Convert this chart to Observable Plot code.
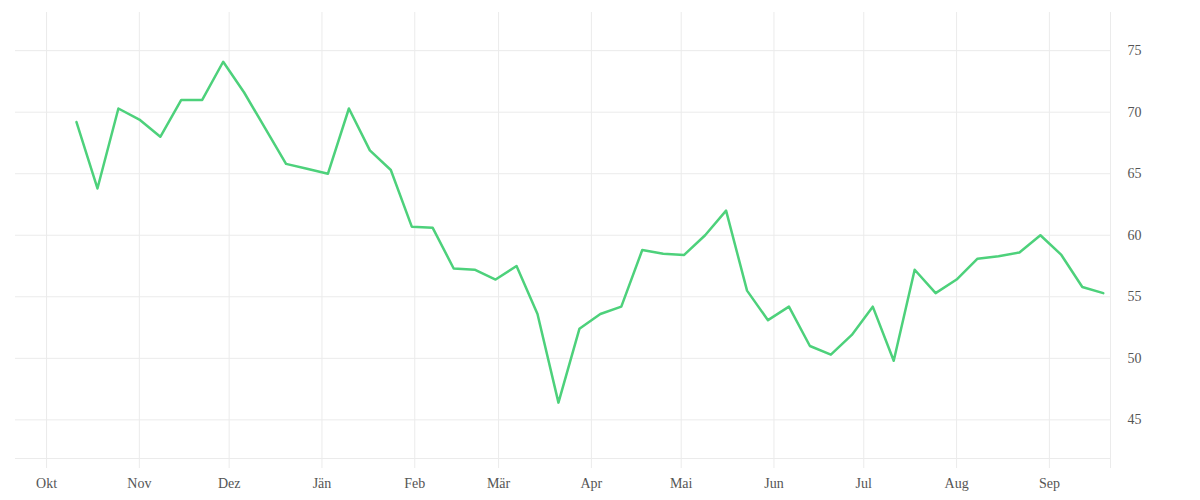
<!DOCTYPE html>
<html>
<head>
<meta charset="utf-8">
<script src="https://cdn.jsdelivr.net/npm/d3@7"></script>
<script src="https://cdn.jsdelivr.net/npm/@observablehq/plot@0.6"></script>
<style>
  html, body { margin: 0; padding: 0; background: #fff; }
</style>
</head>
<body>
<div id="chart"></div>
<script>
const dates = [
  "2022-10-11","2022-10-18","2022-10-25",
  "2022-11-01","2022-11-08","2022-11-15","2022-11-22","2022-11-29",
  "2022-12-06","2022-12-13","2022-12-20","2022-12-27",
  "2023-01-03","2023-01-10","2023-01-17","2023-01-24","2023-01-31",
  "2023-02-07","2023-02-14","2023-02-21","2023-02-28",
  "2023-03-07","2023-03-14","2023-03-21","2023-03-28",
  "2023-04-04","2023-04-11","2023-04-18","2023-04-25",
  "2023-05-02","2023-05-09","2023-05-16","2023-05-23","2023-05-30",
  "2023-06-06","2023-06-13","2023-06-20","2023-06-27",
  "2023-07-04","2023-07-11","2023-07-18","2023-07-25",
  "2023-08-01","2023-08-08","2023-08-15","2023-08-22","2023-08-29",
  "2023-09-05","2023-09-12","2023-09-19"
];
const values = [
  69.2, 63.8, 70.3,
  69.4, 68.0, 71.0, 71.0, 74.1,
  71.6, 68.7, 65.8, 65.4,
  65.0, 70.3, 66.9, 65.3, 60.7,
  60.6, 57.3, 57.2, 56.4,
  57.5, 53.6, 46.4, 52.4,
  53.6, 54.2, 58.8, 58.5,
  58.4, 60.0, 62.0, 55.5, 53.1,
  54.2, 51.0, 50.3, 51.9,
  54.2, 49.8, 57.2, 55.3,
  56.4, 58.1, 58.3, 58.6, 60.0,
  58.4, 55.8, 55.3
];
const monthTicks = [
  "2022-10-01","2022-11-01","2022-12-01","2023-01-01","2023-02-01","2023-03-01",
  "2023-04-01","2023-05-01","2023-06-01","2023-07-01","2023-08-01","2023-09-01"
];
const monthNames = ["Jän","Feb","Mär","Apr","Mai","Jun","Jul","Aug","Sep","Okt","Nov","Dez"];
const yTicks = [45, 50, 55, 60, 65, 70, 75];
const xDomain = ["2022-09-20T15:00:00Z", "2023-09-21T10:00:00Z"];
const yDomain = [41.86, 78.1];

const data = dates.map((d, i) => ({date: new Date(d + "T00:00:00Z"), value: values[i]}));
const monthDates = monthTicks.map(d => new Date(d + "T00:00:00Z"));
const xDom = xDomain.map(d => new Date(d));
const gridTicks = [...monthDates, xDom[1]];

const gridColor = "#ebebeb";
const textColor = "#555";

const chart = Plot.plot({
  width: 1200,
  height: 500,
  marginLeft: 15,
  marginRight: 90,
  marginTop: 12,
  marginBottom: 42,
  style: {fontFamily: "'Liberation Serif', serif", fontSize: "14px", background: "#fff"},
  x: {type: "utc", domain: xDom, label: null},
  y: {domain: yDomain, label: null},
  marks: [
    Plot.gridY(yTicks, {stroke: gridColor, strokeOpacity: 1}),
    Plot.gridX(gridTicks, {stroke: gridColor, strokeOpacity: 1}),
    Plot.ruleY([yDomain[0]], {stroke: gridColor}),
    Plot.axisX(gridTicks, {tickSize: 10, stroke: gridColor, strokeOpacity: 1, tickFormat: () => "", label: null}),
    Plot.axisX(monthDates, {tickSize: 0, tickPadding: 20, fill: textColor, label: null, tickFormat: d => monthNames[d.getUTCMonth()]}),
    Plot.axisY(yTicks, {anchor: "right", tickSize: 0, tickPadding: 17, fill: textColor, label: null}),
    Plot.line(data, {x: "date", y: "value", stroke: "#4dd17b", strokeWidth: 2.5})
  ]
});
document.getElementById("chart").appendChild(chart);
</script>
</body>
</html>
